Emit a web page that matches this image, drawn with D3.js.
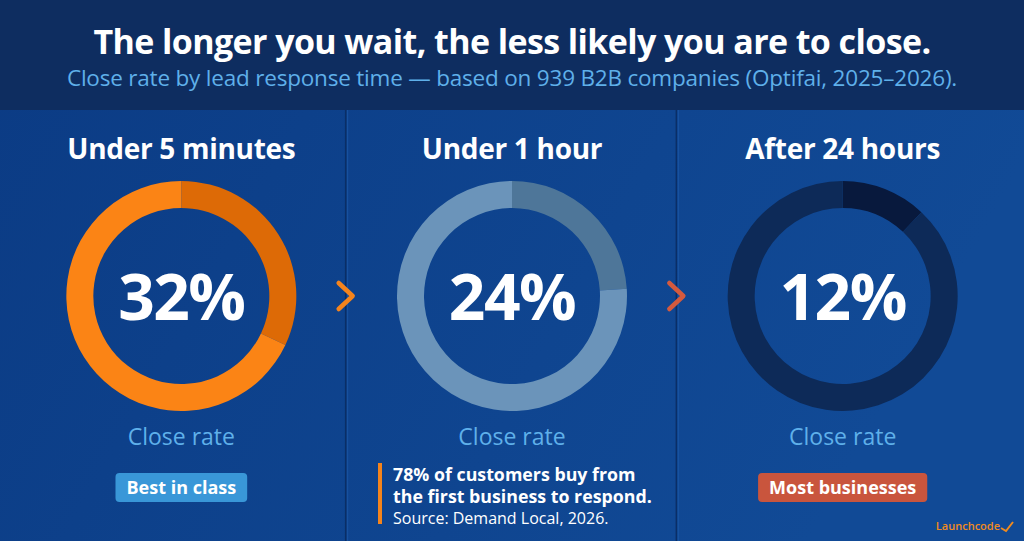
<!DOCTYPE html>
<html>
<head>
<meta charset="utf-8">
<script src="https://cdn.jsdelivr.net/npm/d3@7"></script>
<style>
  html, body { margin: 0; padding: 0; background: #0b3a7f; }
  svg { display: block; font-family: "Open Sans", sans-serif; }
</style>
</head>
<body>
<div id="chart"></div>
<script>
// Chart data
const categories = ['Under 5 minutes', 'Under 1 hour', 'After 24 hours'];
const closeRates = [32, 24, 12];
const segmentColors = ['#dd6a06', '#4e7699', '#08193d'];
const ringColors = ['#fb8415', '#6b94ba', '#0d2a58'];
const badges = ['Best in class', null, 'Most businesses'];
const badgeColors = ['#3997d8', null, '#c9553d'];
const quoteLines = ['78% of customers buy from', 'the first business to respond.'];
const quoteSource = 'Source: Demand Local, 2026.';

const width = 1024, height = 541, headerHeight = 110;

const svg = d3.select('#chart').append('svg')
    .attr('width', width)
    .attr('height', height);

const defs = svg.append('defs');
const bodyGrad = defs.append('linearGradient')
    .attr('id', 'body-gradient')
    .attr('x1', 0).attr('x2', 1).attr('y1', 0).attr('y2', 0.3);
bodyGrad.append('stop').attr('offset', '0%').attr('stop-color', '#0b3b84');
bodyGrad.append('stop').attr('offset', '100%').attr('stop-color', '#114a96');

svg.append('rect')
    .attr('width', width).attr('height', height)
    .attr('fill', 'url(#body-gradient)');

svg.append('rect')
    .attr('width', width).attr('height', headerHeight)
    .attr('fill', '#0e2d60');

svg.append('text')
    .attr('x', width / 2).attr('y', 54)
    .attr('text-anchor', 'middle')
    .attr('fill', '#ffffff')
    .attr('font-size', 34)
    .attr('font-weight', 700)
    .attr('letter-spacing', -0.6)
    .text('The longer you wait, the less likely you are to close.');

svg.append('text')
    .attr('x', width / 2).attr('y', 86)
    .attr('text-anchor', 'middle')
    .attr('fill', '#5fb0ea')
    .attr('font-size', 22.5)
    .attr('letter-spacing', -0.2)
    .text('Close rate by lead response time \u2014 based on 939 B2B companies (Optifai, 2025\u20132026).');

// Panel layout
const x = d3.scaleBand()
    .domain(categories)
    .range([16, 1008])
    .padding(0);

const centerX = d => x(d) + x.bandwidth() / 2;
const centerY = 296;
const outerR = 115, innerR = 88;

const pie = d3.pie().sort(null).value(d => d);
const arc = d3.arc().innerRadius(innerR).outerRadius(outerR);

// Divider lines between panels: dark line with a faint highlight
svg.selectAll('.divider')
    .data(categories.slice(1))
  .join('line')
    .attr('class', 'divider')
    .attr('x1', d => x(d) - 1).attr('x2', d => x(d) - 1)
    .attr('y1', headerHeight).attr('y2', height)
    .attr('stroke', '#0a2e66')
    .attr('stroke-width', 1.5);
svg.selectAll('.divider-hi')
    .data(categories.slice(1))
  .join('line')
    .attr('class', 'divider-hi')
    .attr('x1', d => x(d) + 1).attr('x2', d => x(d) + 1)
    .attr('y1', headerHeight).attr('y2', height)
    .attr('stroke', '#1a55a3')
    .attr('stroke-width', 1);

const panel = svg.selectAll('.panel')
    .data(categories)
  .join('g')
    .attr('class', 'panel')
    .attr('transform', d => `translate(${centerX(d)},0)`);

panel.append('text')
    .attr('y', 159)
    .attr('text-anchor', 'middle')
    .attr('fill', '#ffffff')
    .attr('font-size', 28)
    .attr('font-weight', 700)
    .attr('letter-spacing', -0.3)
    .text(d => d);

panel.each(function(d, i) {
  const g = d3.select(this).append('g')
      .attr('transform', `translate(0,${centerY})`);
  g.selectAll('path')
      .data(pie([closeRates[i], 100 - closeRates[i]]))
    .join('path')
      .attr('d', arc)
      .attr('fill', (s, j) => j === 0 ? segmentColors[i] : ringColors[i]);
  g.append('text')
      .attr('y', 24)
      .attr('text-anchor', 'middle')
      .attr('fill', '#ffffff')
      .attr('font-size', 64)
      .attr('font-weight', 700)
      .attr('letter-spacing', -1.5)
      .text(closeRates[i] + '%');
});

panel.append('text')
    .attr('y', 445)
    .attr('text-anchor', 'middle')
    .attr('fill', '#5fb0ea')
    .attr('font-size', 23)
    .text('Close rate');

// Badges
panel.filter((d, i) => badges[i]).each(function(d) {
  const i = categories.indexOf(d);
  const g = d3.select(this);
  const label = g.append('text')
      .attr('y', 494)
      .attr('text-anchor', 'middle')
      .attr('fill', '#ffffff')
      .attr('font-size', 18)
      .attr('font-weight', 700)
      .text(badges[i]);
  const w = label.node().getComputedTextLength() + 22;
  g.insert('rect', () => label.node())
      .attr('x', -w / 2).attr('y', 473)
      .attr('width', w).attr('height', 29)
      .attr('rx', 4)
      .attr('fill', badgeColors[i]);
});

// Chevrons between panels
const chevColors = ['#f5841c', '#d45a3e'];
svg.selectAll('.chevron')
    .data(categories.slice(1))
  .join('path')
    .attr('class', 'chevron')
    .attr('d', d => `M${x(d) - 8},${centerY - 13} L${x(d) + 6},${centerY} L${x(d) - 8},${centerY + 13}`)
    .attr('fill', 'none')
    .attr('stroke', (d, i) => chevColors[i])
    .attr('stroke-width', 4.5)
    .attr('stroke-linecap', 'round')
    .attr('stroke-linejoin', 'round');

// Quote in middle panel
const quote = svg.append('g')
    .attr('transform', `translate(${centerX(categories[1]) - 134},0)`);
quote.append('rect')
    .attr('x', 0).attr('y', 463)
    .attr('width', 4).attr('height', 61)
    .attr('fill', '#f5841c');
quote.selectAll('.quote-line')
    .data(quoteLines)
  .join('text')
    .attr('class', 'quote-line')
    .attr('x', 15)
    .attr('y', (d, i) => 481 + i * 22)
    .attr('fill', '#ffffff')
    .attr('font-size', 17.8)
    .attr('font-weight', 700)
    .text(d => d);
quote.append('text')
    .attr('x', 15).attr('y', 524)
    .attr('fill', '#ffffff')
    .attr('font-size', 16)
    .text(quoteSource);

// Logo
svg.append('text')
    .attr('x', 1000).attr('y', 530)
    .attr('text-anchor', 'end')
    .attr('fill', '#f08a1e')
    .attr('font-size', 11)
    .attr('font-weight', 600)
    .text('Launchcode');
svg.append('path')
    .attr('d', 'M1001,528 L1006,531 L1013,522')
    .attr('fill', 'none')
    .attr('stroke', '#f08a1e')
    .attr('stroke-width', 2);
</script>
</body>
</html>
